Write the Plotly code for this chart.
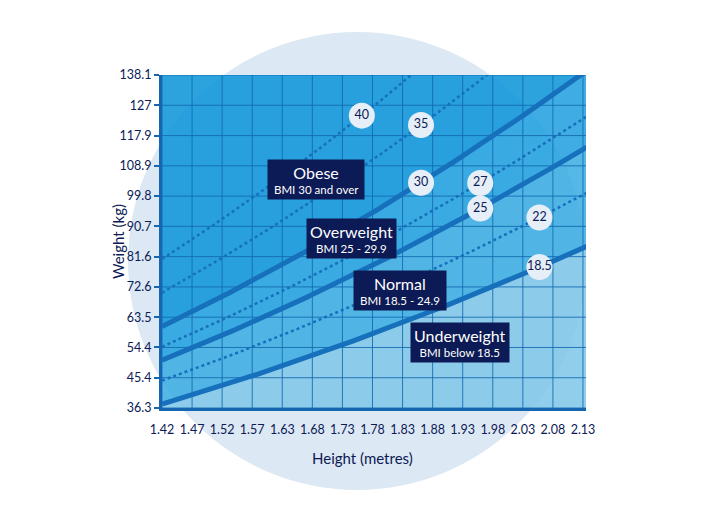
import plotly.graph_objects as go
import numpy as np

# ---- data ----
height_ticks = [1.4224, 1.4732, 1.5240, 1.5748, 1.6256, 1.6764, 1.7272, 1.7780,
                1.8288, 1.8796, 1.9304, 1.9812, 2.0320, 2.0828, 2.1336]
height_labels = ["1.42", "1.47", "1.52", "1.57", "1.63", "1.68", "1.73", "1.78",
                 "1.83", "1.88", "1.93", "1.98", "2.03", "2.08", "2.13"]
weight_ticks = [36.29, 45.36, 54.43, 63.50, 72.57, 81.65, 90.72, 99.79,
                108.86, 117.93, 127.01, 136.08]
weight_labels = ["36.3", "45.4", "54.4", "63.5", "72.6", "81.6", "90.7", "99.8",
                 "108.9", "117.9", "127", "138.1"]

bmi_solid = [18.5, 25, 30]
bmi_dotted = [22, 27, 35, 40]
badge_bmi = [40, 35, 30, 27, 25, 22, 18.5]
badge_height = [1.76, 1.86, 1.86, 1.96, 1.96, 2.06, 2.06]
badge_text = ["40", "35", "30", "27", "25", "22", "18.5"]

categories = ["Obese", "Overweight", "Normal", "Underweight"]
category_sub = ["BMI 30 and over", "BMI 25 - 29.9", "BMI 18.5 - 24.9", "BMI below 18.5"]

# ---- styling ----
NAVY = "#0c1a55"
LINE = "#1670bb"
AXIS = "#1565b0"
GRID = "rgba(18,105,175,0.85)"
FONT = "Lato"
band_colors = {
    "Underweight": "rgba(126,198,231,0.85)",
    "Normal": "rgba(55,171,226,0.85)",
    "Overweight": "rgba(29,159,222,0.85)",
    "Obese": "rgba(8,147,216,0.85)",
}

h = np.linspace(height_ticks[0], 2.14, 200)
ymin, ymax = weight_ticks[0], weight_ticks[-1]

fig = go.Figure()

# bands
fig.add_trace(go.Scatter(x=h, y=np.full_like(h, ymin), mode="lines",
                         line=dict(width=0), hoverinfo="skip", showlegend=False))
fig.add_trace(go.Scatter(x=h, y=18.5 * h**2, mode="lines", line=dict(width=0),
                         fill="tonexty", fillcolor=band_colors["Underweight"],
                         hoverinfo="skip", showlegend=False))
fig.add_trace(go.Scatter(x=h, y=25 * h**2, mode="lines", line=dict(width=0),
                         fill="tonexty", fillcolor=band_colors["Normal"],
                         hoverinfo="skip", showlegend=False))
fig.add_trace(go.Scatter(x=h, y=30 * h**2, mode="lines", line=dict(width=0),
                         fill="tonexty", fillcolor=band_colors["Overweight"],
                         hoverinfo="skip", showlegend=False))
fig.add_trace(go.Scatter(x=h, y=np.full_like(h, ymax + 5), mode="lines", line=dict(width=0),
                         fill="tonexty", fillcolor=band_colors["Obese"],
                         hoverinfo="skip", showlegend=False))

# grid lines
gx, gy = [], []
for xv in height_ticks:
    gx += [xv, xv, None]
    gy += [ymin, ymax + 5, None]
for yv in weight_ticks:
    gx += [height_ticks[0], 2.2, None]
    gy += [yv, yv, None]
fig.add_trace(go.Scatter(x=gx, y=gy, mode="lines", line=dict(color=GRID, width=1),
                         hoverinfo="skip", showlegend=False))

# BMI lines
for b in bmi_dotted:
    fig.add_trace(go.Scatter(x=h, y=b * h**2, mode="lines",
                             line=dict(color=LINE, width=2.5, dash="dot"),
                             hoverinfo="skip", showlegend=False))
for b in bmi_solid:
    fig.add_trace(go.Scatter(x=h, y=b * h**2, mode="lines",
                             line=dict(color=LINE, width=5),
                             hoverinfo="skip", showlegend=False))

# badges
bh = np.array(badge_height)
fig.add_trace(go.Scatter(x=bh, y=np.array(badge_bmi) * bh**2, mode="markers+text",
                         marker=dict(size=26, color="#e6eef7", line=dict(width=0)),
                         text=badge_text, textposition="middle center",
                         textfont=dict(family=FONT, size=12.5, color=NAVY),
                         hoverinfo="skip", showlegend=False))

# category boxes
box_pos = {"Obese": (1.6825, 104.9), "Overweight": (1.7433, 87.2),
           "Normal": (1.8244, 71.6), "Underweight": (1.9258, 55.8)}
for name, sub in zip(categories, category_sub):
    x0, y0 = box_pos[name]
    fig.add_annotation(x=x0, y=y0, xref="x", yref="y", showarrow=False,
                       text=f"<span style='font-size:16px'>{name}</span><br>&nbsp;{sub}&nbsp;",
                       font=dict(family=FONT, size=11.5, color="white"),
                       bgcolor=NAVY, borderpad=3, align="center")

# background circle
fig.add_shape(type="circle", xref="paper", yref="paper",
              x0=-0.0802, x1=1.0, y0=-0.246, y1=1.129,
              fillcolor="#dce8f3", line=dict(width=0), layer="below")

# axis titles
fig.add_annotation(text="Weight (kg)", xref="paper", yref="paper", x=-0.105, y=0.5,
                   textangle=-90, showarrow=False, xanchor="center", yanchor="middle",
                   font=dict(family=FONT, size=15, color=NAVY))
fig.add_annotation(text="Height (metres)", xref="paper", yref="paper", x=0.473, y=-0.15,
                   showarrow=False, xanchor="center", yanchor="middle",
                   font=dict(family=FONT, size=15, color=NAVY))

fig.update_layout(
    width=712, height=522,
    margin=dict(l=162, r=126, t=75, b=114),
    paper_bgcolor="white", plot_bgcolor="rgba(0,0,0,0)",
    showlegend=False,
    font=dict(family=FONT, size=12, color=NAVY),
)
fig.update_xaxes(range=[height_ticks[0], 2.1387], tickvals=height_ticks, ticktext=height_labels,
                 showgrid=False, zeroline=False, showline=True, linecolor=AXIS, linewidth=3,
                 ticks="outside", ticklen=8, tickcolor="rgba(0,0,0,0)",
                 tickfont=dict(family=FONT, size=12.5, color=NAVY), layer="above traces")
fig.update_yaxes(range=[ymin, ymax], tickvals=weight_ticks, ticktext=weight_labels,
                 showgrid=False, zeroline=False, showline=True, linecolor=AXIS, linewidth=3,
                 ticks="outside", ticklen=5, tickcolor=AXIS, tickwidth=1.5,
                 tickfont=dict(family=FONT, size=12.5, color=NAVY), layer="above traces")

fig.write_html("out.html")
